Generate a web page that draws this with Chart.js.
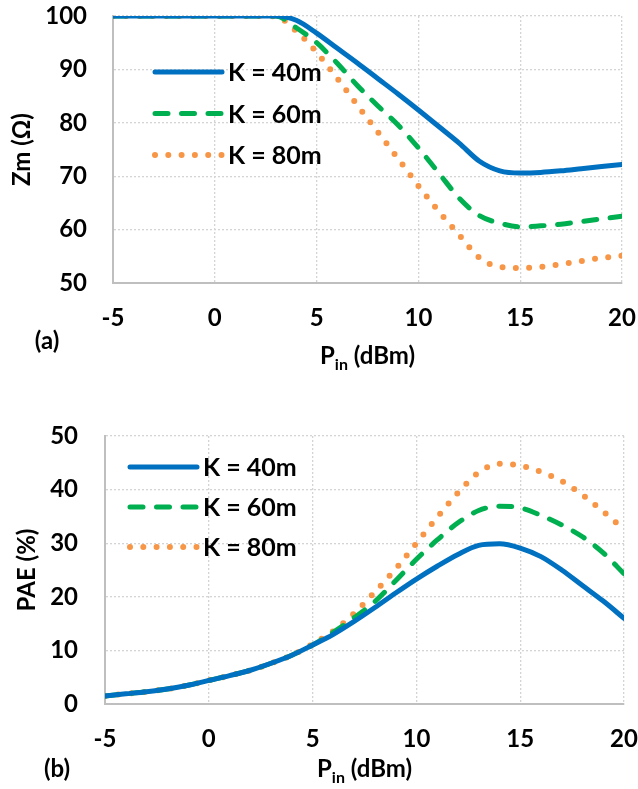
<!DOCTYPE html>
<html>
<head>
<meta charset="utf-8">
<script src="https://cdn.jsdelivr.net/npm/chart.js@4.4.1/dist/chart.umd.min.js"></script>
<style>
  body { margin: 0; background: #fff; }
  #wrap { position: relative; width: 638px; height: 789px; }
  canvas { position: absolute; left: 0; }
  #zmChart { top: 0; }
  #paeChart { top: 390px; }
</style>
</head>
<body>
<div id="wrap">
  <canvas id="zmChart" width="638" height="390"></canvas>
  <canvas id="paeChart" width="638" height="399"></canvas>
</div>
<script>
// ===== DATA =====
const pin = [-5, -4, -3, -2, -1, 0, 1, 2, 3, 4, 5, 6, 7, 8, 9, 10, 11, 12, 13, 14, 15, 16, 17, 18, 19, 20];
const seriesLabels = ["K = 40m", "K = 60m", "K = 80m"];

// (a) Zm in ohm
const zm40 = [100, 100, 100, 100, 100, 100, 100, 100, 100, 99.2, 96.8, 94.0, 91.2, 88.3, 85.4, 82.4, 79.3, 76.2, 72.8, 71.0, 70.6, 70.7, 71.0, 71.4, 71.8, 72.2];
const zm60 = [100, 100, 100, 100, 100, 100, 100, 100, 100, 97.8, 95.0, 91.2, 87.0, 83.2, 79.6, 75.3, 70.6, 65.9, 62.6, 61.2, 60.5, 60.7, 61.0, 61.5, 62.0, 62.5];
const zm80 = [100, 100, 100, 100, 100, 100, 100, 100, 99.9, 97.2, 93.2, 88.4, 83.3, 78.3, 73.3, 68.2, 63.4, 59.0, 54.7, 53.0, 52.8, 53.0, 53.5, 54.1, 54.7, 55.1];

// (b) PAE in %
const pae40 = [1.5, 1.9, 2.3, 2.8, 3.5, 4.4, 5.3, 6.3, 7.6, 9.1, 11.0, 13.0, 15.4, 18.0, 20.7, 23.3, 25.7, 27.9, 29.6, 29.9, 29.1, 27.5, 25.0, 22.1, 19.2, 16.0];
const pae60 = [1.5, 1.9, 2.3, 2.8, 3.5, 4.4, 5.3, 6.3, 7.6, 9.1, 11.0, 13.4, 16.1, 19.1, 23.0, 27.0, 30.6, 33.8, 36.1, 36.9, 36.6, 35.2, 33.4, 31.2, 28.2, 24.3];
const pae80 = [1.5, 1.9, 2.3, 2.8, 3.5, 4.4, 5.3, 6.3, 7.6, 9.1, 11.2, 13.6, 16.9, 20.9, 25.2, 30.0, 34.8, 39.4, 43.2, 44.8, 44.5, 43.3, 41.6, 39.0, 35.9, 32.6];

// ===== STYLE =====
const FONT = "Lato";
const TEXT = "#000";
const lineStyles = [
  { borderColor: "#0070C0", borderWidth: 5, borderDash: [], borderCapStyle: "round" },
  { borderColor: "#00B050", borderWidth: 5, borderDash: [13, 13.5], borderCapStyle: "round" },
  { borderColor: "#F79646", borderWidth: 6, borderDash: [0, 13.3], borderCapStyle: "round" }
];

function makeDatasets(seriesList) {
  return seriesList.map((vals, i) => ({
    label: seriesLabels[i],
    data: pin.map((x, j) => ({ x: x, y: vals[j] })),
    ...lineStyles[i],
    borderJoinStyle: "round",
    pointRadius: 0,
    fill: false,
    cubicInterpolationMode: "monotone"
  }));
}

// legend, axis titles and panel letter drawn on the canvas
const panelDecor = {
  id: "panelDecor",
  afterDraw(chart, args, o) {
    const { ctx, chartArea } = chart;
    ctx.save();
    ctx.fillStyle = TEXT;

    // legend inside plot area
    ctx.font = "bold 25px " + FONT;
    chart.data.datasets.forEach((ds, i) => {
      const y = chartArea.top + o.legendTop + i * o.legendGap;
      const x0 = chartArea.left + o.legendLeft;
      ctx.save();
      ctx.strokeStyle = ds.borderColor;
      ctx.lineWidth = ds.borderWidth;
      ctx.lineCap = ds.borderCapStyle;
      ctx.setLineDash(ds.borderDash);
      ctx.beginPath();
      ctx.moveTo(x0, y);
      ctx.lineTo(x0 + 67, y);
      ctx.stroke();
      ctx.restore();
      ctx.textBaseline = "middle";
      ctx.textAlign = "left";
      ctx.fillText(ds.label, x0 + 73, y + 1);
    });

    // y title (rotated)
    ctx.font = "bold 24px " + FONT;
    ctx.save();
    ctx.translate(o.yTitleX, (chartArea.top + chartArea.bottom) / 2);
    ctx.rotate(-Math.PI / 2);
    ctx.textAlign = "center";
    ctx.textBaseline = "middle";
    ctx.fillText(o.yTitle, 0, 0);
    ctx.restore();

    // x title with subscript: P_in (dBm)
    ctx.textBaseline = "middle";
    ctx.textAlign = "left";
    const big = "bold 24px " + FONT, small = "bold 16px " + FONT;
    ctx.font = big;
    const wP = ctx.measureText("P").width;
    const wRest = ctx.measureText(" (dBm)").width;
    ctx.font = small;
    const wSub = ctx.measureText("in").width;
    let x = (chartArea.left + chartArea.right) / 2 - (wP + wSub + wRest) / 2;
    ctx.font = big;
    ctx.fillText("P", x, o.xTitleY);
    x += wP;
    ctx.font = small;
    ctx.fillText("in", x, o.xTitleY + 9);
    x += wSub;
    ctx.font = big;
    ctx.fillText(" (dBm)", x, o.xTitleY);

    // panel letter
    ctx.textAlign = "center";
    ctx.fillText(o.panel, o.panelX, o.panelY);
    ctx.restore();
  }
};

function makeChart(id, seriesList, yMin, yMax, yAxisW, xAxisH, pad, yTickPad, decor) {
  const tickFont = { family: FONT, weight: "bold", size: 24 };
  return new Chart(document.getElementById(id), {
    type: "line",
    data: { datasets: makeDatasets(seriesList) },
    plugins: [panelDecor],
    options: {
      responsive: false,
      animation: false,
      layout: { padding: pad },
      plugins: {
        legend: { display: false },
        tooltip: { enabled: false },
        panelDecor: decor
      },
      scales: {
        x: {
          type: "linear",
          min: -5, max: 20,
          ticks: { stepSize: 5, padding: 21, color: TEXT, font: tickFont },
          grid: { color: "#D4D4D4", lineWidth: 1.3, drawTicks: false },
          border: { color: "#BFBFBF", width: 2, dash: [2, 2] },
          afterFit(s) { s.height = xAxisH; s.paddingLeft = 0; s.paddingRight = 0; }
        },
        y: {
          min: yMin, max: yMax,
          ticks: { stepSize: 10, padding: yTickPad, color: TEXT, font: tickFont },
          grid: { color: "#D4D4D4", lineWidth: 1.3, drawTicks: false },
          border: { color: "#BFBFBF", width: 2, dash: [2, 2] },
          afterFit(s) { s.width = yAxisW; s.paddingTop = 0; s.paddingBottom = 0; }
        }
      }
    }
  });
}

makeChart("zmChart", [zm40, zm60, zm80], 50, 100, 113, 107,
  { top: 16, right: 16, bottom: 0, left: 0 }, 26,
  { legendLeft: 42, legendTop: 56, legendGap: 41.5, yTitle: "Zm (Ω)", yTitleX: 22,
    xTitleY: 356, panel: "(a)", panelX: 47, panelY: 341 });

makeChart("paeChart", [pae40, pae60, pae80], 0, 50, 105, 85,
  { top: 46, right: 14, bottom: 0, left: 0 }, 27,
  { legendLeft: 25, legendTop: 31, legendGap: 40, yTitle: "PAE (%)", yTitleX: 27,
    xTitleY: 379, panel: "(b)", panelX: 57, panelY: 379 });
</script>
</body>
</html>
